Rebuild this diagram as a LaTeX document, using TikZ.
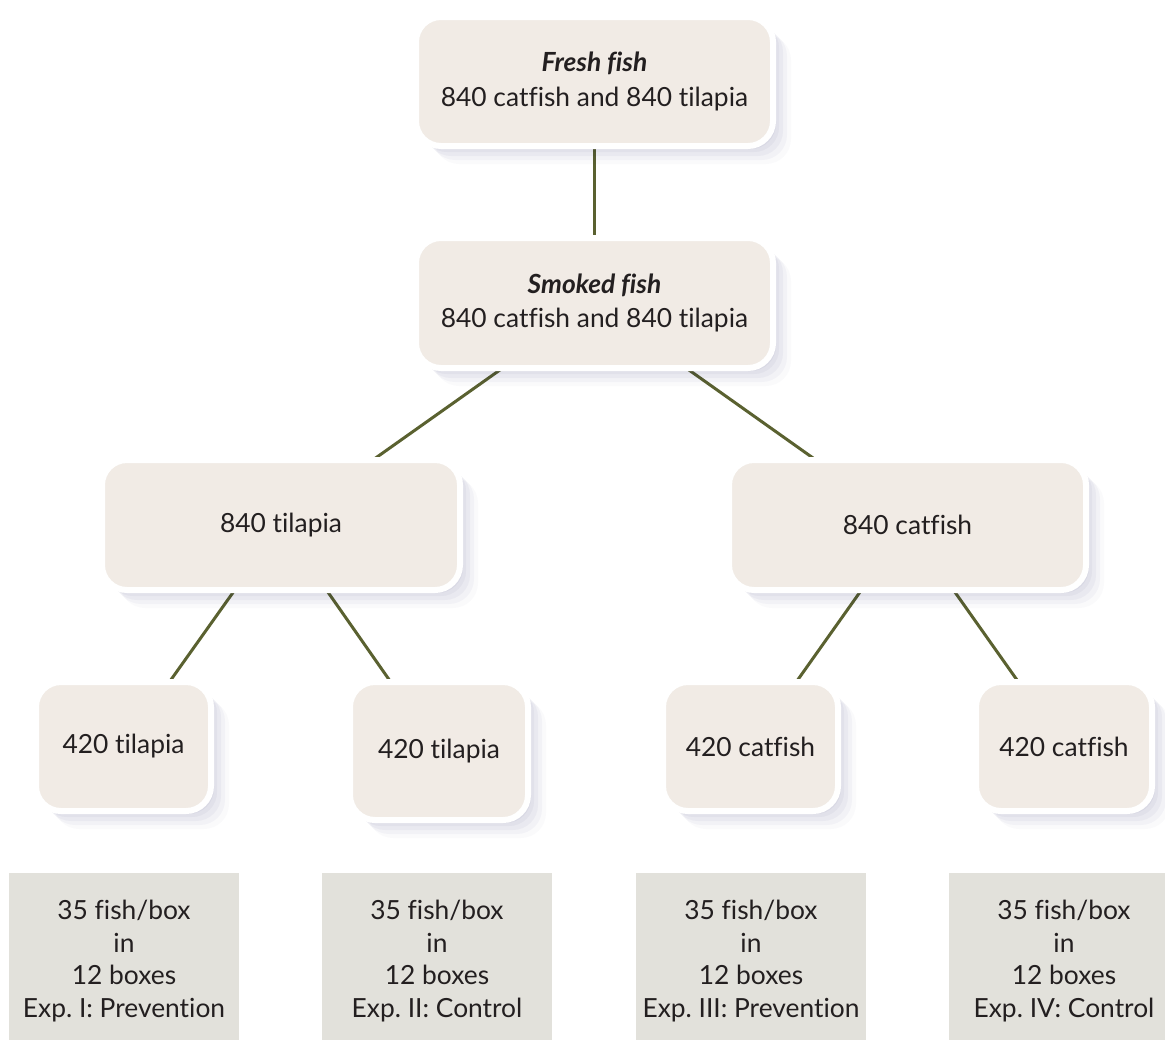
\documentclass[tikz,border=0pt]{standalone}
\usepackage{fontspec}
\setmainfont{Lato}[Ligatures={NoCommon}]
\usetikzlibrary{shadows}
\definecolor{boxfill}{HTML}{F1EBE5}
\definecolor{grayfill}{HTML}{E2E1DB}
\definecolor{linkcol}{HTML}{5A6130}
\definecolor{txtcol}{HTML}{231F20}
\pgfdeclarelayer{background}
\pgfsetlayers{background,main}
\tikzset{
  softshadow/.style={
    general shadow={fill=black!70!blue, opacity=0.04, shadow xshift=0.06cm, shadow yshift=-0.06cm},
    general shadow={fill=black!70!blue, opacity=0.04, shadow xshift=0.12cm, shadow yshift=-0.12cm},
    general shadow={fill=black!70!blue, opacity=0.035, shadow xshift=0.2cm, shadow yshift=-0.2cm},
    general shadow={fill=black!70!blue, opacity=0.03, shadow xshift=0.28cm, shadow yshift=-0.28cm},
    general shadow={fill=black!70!blue, opacity=0.02, shadow xshift=0.36cm, shadow yshift=-0.36cm}},
  fishbox/.style={softshadow, draw=white, line width=0.12cm, fill=boxfill,
    rounded corners=0.5cm, align=center, inner sep=2pt, text=txtcol,
    font=\fontsize{15}{19.8}\selectfont},
  wide/.style={fishbox, minimum width=7.14cm, minimum height=2.6cm},
  small/.style={fishbox, minimum width=3.5cm, minimum height=2.58cm},
  expbox/.style={fill=grayfill, minimum width=4.6cm, minimum height=3.52cm,
    align=center, inner sep=0pt, text=txtcol, font=\fontsize{15}{18.7}\selectfont},
  link/.style={draw=linkcol, line width=0.06cm}
}
\begin{document}
\frenchspacing
\begin{tikzpicture}
\useasboundingbox (0,0) rectangle (23.3,-20.78);
\clip (0,0) rectangle (23.3,-20.78);

\node[wide, minimum height=2.58cm] (fresh) at (11.89,-1.63) {\textbf{\textit{Fresh fish}}\\840 catfish and 840 tilapia};
\node[wide] (smoked) at (11.89,-6.06) {\textbf{\textit{Smoked fish}}\\840 catfish and 840 tilapia};
\node[wide, minimum width=7.16cm] (t840) at (5.62,-10.5) {840 tilapia};
\node[wide] (c840) at (18.15,-10.5) {840 catfish};
\node[small] (t420a) at (2.47,-14.93) {420 tilapia};
\node[small, minimum width=3.56cm, minimum height=2.76cm] (t420b) at (8.78,-15.02) {420 tilapia};
\node[small] (c420a) at (15.01,-14.93) {420 catfish};
\node[small, minimum width=3.52cm] (c420b) at (21.28,-14.93) {420 catfish};

\node[expbox] (e1) at (2.48,-19.22) {35 fish/box\\in\\12 boxes\\Exp. I: Prevention};
\node[expbox] (e2) at (8.74,-19.22) {35 fish/box\\in\\12 boxes\\Exp. II: Control};
\node[expbox] (e3) at (15.02,-19.22) {35 fish/box\\in\\12 boxes\\Exp. III: Prevention};
\node[expbox] (e4) at (21.28,-19.22) {35 fish/box\\in\\12 boxes\\Exp. IV: Control};

\begin{pgfonlayer}{background}
\draw[link] (fresh.center) -- (smoked.center);
\draw[link] (smoked.center) -- (t840.center);
\draw[link] (smoked.center) -- (c840.center);
\draw[link] (t840.center) -- (t420a.center);
\draw[link] (t840.center) -- (t420b.center);
\draw[link] (c840.center) -- (c420a.center);
\draw[link] (c840.center) -- (c420b.center);
\end{pgfonlayer}
\end{tikzpicture}
\end{document}
